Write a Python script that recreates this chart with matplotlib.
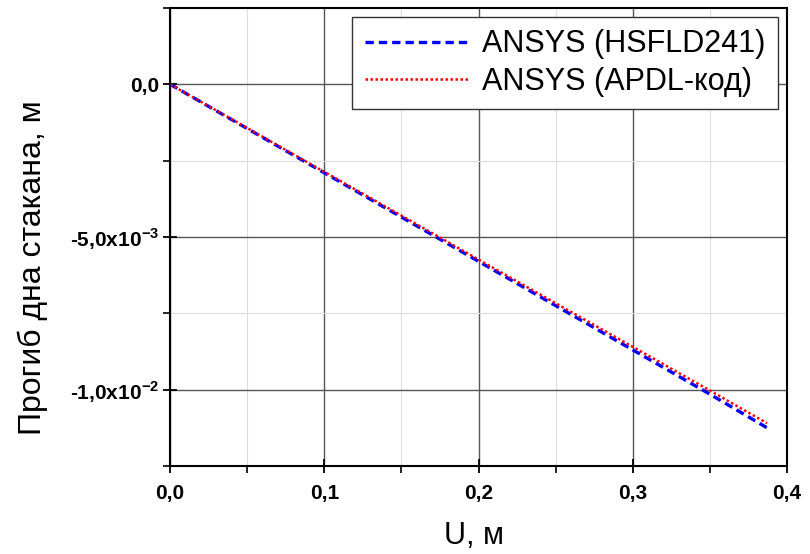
import numpy as np
import matplotlib
matplotlib.use("Agg")
import matplotlib.pyplot as plt
from matplotlib.ticker import MultipleLocator

plt.rcParams['font.family'] = ['Liberation Sans', 'DejaVu Sans']
plt.rcParams['mathtext.fontset'] = 'custom'
plt.rcParams['mathtext.bf'] = 'Liberation Sans:bold'

# data
u_hsfld = [0.0, 0.05, 0.1, 0.15, 0.2, 0.25, 0.3, 0.35, 0.387]
w_hsfld = [0.0, -0.00145, -0.0029, -0.00435, -0.0058, -0.00725, -0.0087, -0.01015, -0.01125]
u_apdl = [0.0, 0.05, 0.1, 0.15, 0.2, 0.25, 0.3, 0.35, 0.387]
w_apdl = [0.0, -0.00143, -0.00287, -0.0043, -0.00574, -0.00717, -0.0086, -0.01003, -0.01110]

x_ticks = [0.0, 0.1, 0.2, 0.3, 0.4]
x_labels = ["0,0", "0,1", "0,2", "0,3", "0,4"]
y_ticks = [0.0, -0.005, -0.01]
y_labels = ["0,0", r"-5,0x10$^{\mathbf{-3}}$", r"-1,0x10$^{\mathbf{-2}}$"]

fig = plt.figure(figsize=(8.1, 5.54), dpi=100)
ax = fig.add_axes([0.21, 0.159, 0.7616, 0.8266])

ax.plot(u_hsfld, w_hsfld, color='blue', ls=(0, (2.5, 1.5)), lw=2.4, label='ANSYS (HSFLD241)')
ax.plot(u_apdl, w_apdl, color='red', ls=(0, (1, 1)), lw=1.8, label='ANSYS (APDL-код)')

ax.set_xlim(0, 0.4)
ax.set_ylim(-0.0125, 0.0025)
ax.set_xticks(x_ticks)
ax.set_xticklabels(x_labels, fontweight='bold', fontsize=15)
ax.set_yticks(y_ticks)
ax.set_yticklabels(y_labels, fontweight='bold', fontsize=15)
ax.xaxis.set_minor_locator(MultipleLocator(0.05))
ax.yaxis.set_minor_locator(MultipleLocator(0.0025))
ax.tick_params(which='major', direction='inout', length=10, width=1.3)
ax.tick_params(which='minor', direction='out', length=5, width=1.2)
ax.tick_params(axis='x', which='major', pad=8)
ax.tick_params(axis='y', which='major', pad=3)

ax.grid(which='major', color='#555555', lw=1.0)
ax.grid(which='minor', color='#dddddd', lw=0.8)
ax.set_axisbelow(True)
for s in ax.spines.values():
    s.set_linewidth(1.5)

ax.set_xlabel('U, м', fontsize=22, va='center')
ax.xaxis.set_label_coords(0.493, -0.152)
ax.set_ylabel('Прогиб дна стакана, м', fontsize=23, va='center')
ax.yaxis.set_label_coords(-0.222, 0.432)

leg = ax.legend(loc='upper right', fontsize=22, fancybox=False, edgecolor='#333333',
                framealpha=1, handlelength=3.4, handletextpad=0.45,
                borderaxespad=0.3, labelspacing=0.25, borderpad=0.4)
leg.get_frame().set_linewidth(1.0)

plt.savefig("out.png", dpi=100)
